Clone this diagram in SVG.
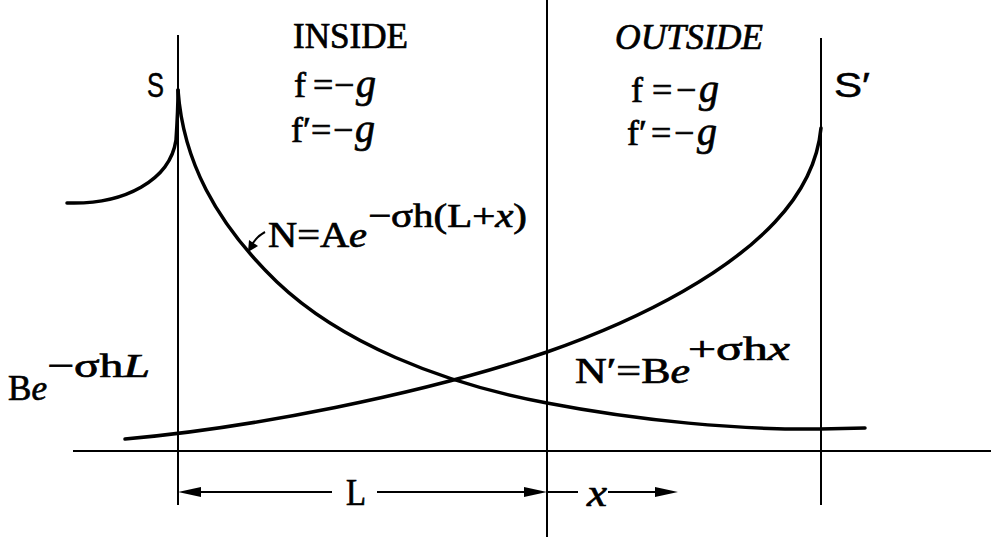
<svg xmlns="http://www.w3.org/2000/svg" width="991" height="537" viewBox="0 0 991 537">
<defs>
<style>
.thin{stroke:#000;stroke-width:2;fill:none}
.curve{stroke:#000;stroke-width:3.5;fill:none;stroke-linecap:round}
.t{font-family:"Liberation Serif","DejaVu Serif",serif;fill:#000;stroke:#000;stroke-width:0.7}
.ti{font-family:"Liberation Serif","DejaVu Serif",serif;font-style:italic;fill:#000;stroke:#000;stroke-width:0.7}
.s{font-family:"Liberation Sans","DejaVu Sans",sans-serif;fill:#000;stroke:#000;stroke-width:0.5}
</style>
</defs>
<rect width="991" height="537" fill="#fff"/>
<g id="axes">
<line class="thin" x1="178" y1="35" x2="178" y2="505"/>
<line class="thin" x1="547" y1="0" x2="547" y2="537"/>
<line class="thin" x1="821" y1="38" x2="821" y2="505"/>
<line class="thin" x1="73" y1="451" x2="991" y2="451"/>
</g>
<g id="curves">
<path class="curve" d="M67,203 C125,205 170,180 176,140 C177,125 178,110 178,90"/>
<path class="curve" d="M178,90 C183,160 215,222 277,282 C340,342 440,383 547,403 C640,421 740,430 820,429 L865,428"/>
<path class="curve" d="M125,439 C250,428 420,395 547,352 C650,316 730,270 775,222 C805,190 818,160 821,128"/>
</g>
<g id="dimensions">
<line class="thin" x1="190" y1="492" x2="332" y2="492"/>
<polygon points="178,492 201,487 201,497" fill="#000"/>
<line class="thin" x1="377" y1="492" x2="535" y2="492"/>
<polygon points="547,492 524,487 524,497" fill="#000"/>
<line class="thin" x1="547" y1="492" x2="578" y2="492"/>
<line class="thin" x1="608" y1="492" x2="665" y2="492"/>
<polygon points="678,492 655,487 655,497" fill="#000"/>
<text class="t" x="346" y="505" font-size="37" textLength="20" lengthAdjust="spacingAndGlyphs">L</text>
<text class="ti" x="587" y="506" font-size="38" textLength="20" lengthAdjust="spacingAndGlyphs">x</text>
</g>
<g id="labels">
<text class="s" x="147" y="97" font-size="35" textLength="17" lengthAdjust="spacingAndGlyphs">S</text>
<text class="s" x="834" y="97" font-size="35" textLength="36" lengthAdjust="spacingAndGlyphs">S′</text>
<text class="t" x="293" y="48" font-size="35" textLength="115" lengthAdjust="spacingAndGlyphs">INSIDE</text>
<text class="t" font-size="36" y="97"><tspan x="294">f</tspan><tspan x="313">=</tspan><tspan x="334">−</tspan><tspan class="ti" x="356" font-size="40">g</tspan></text>
<text class="t" font-size="36" y="142"><tspan x="291">f′</tspan><tspan x="311">=</tspan><tspan x="333">−</tspan><tspan class="ti" x="355" font-size="40">g</tspan></text>
<text class="ti" x="615" y="49" font-size="35" textLength="148" lengthAdjust="spacingAndGlyphs">OUTSIDE</text>
<text class="t" font-size="36" y="102"><tspan x="631">f</tspan><tspan x="652">=</tspan><tspan x="676">−</tspan><tspan class="ti" x="699" font-size="40">g</tspan></text>
<text class="t" font-size="36" y="145"><tspan x="627">f′</tspan><tspan x="651">=</tspan><tspan x="674">−</tspan><tspan class="ti" x="697" font-size="40">g</tspan></text>
</g>
<g id="formula-N">
<path class="thin" d="M265,232 Q254,238 250,249" stroke-width="2.5"/>
<polygon points="248,252 249,240 258,246" fill="#000"/>
<text class="t" x="268" y="247" font-size="36" textLength="99" lengthAdjust="spacingAndGlyphs">N=A<tspan class="ti">e</tspan></text>
<text class="t" x="368" y="227" font-size="34" textLength="159" lengthAdjust="spacingAndGlyphs">−σh(L+<tspan class="ti">x</tspan>)</text>
</g>
<g id="formula-B">
<text class="t" x="8" y="400" font-size="36" textLength="39" lengthAdjust="spacingAndGlyphs">B<tspan class="ti">e</tspan></text>
<text class="t" x="47" y="377" font-size="34" textLength="103" lengthAdjust="spacingAndGlyphs">−σh<tspan class="ti">L</tspan></text>
</g>
<g id="formula-Nprime">
<text class="t" x="575" y="383" font-size="36" textLength="115" lengthAdjust="spacingAndGlyphs">N′=B<tspan class="ti">e</tspan></text>
<text class="t" x="688" y="360" font-size="34" textLength="102" lengthAdjust="spacingAndGlyphs">+σh<tspan class="ti">x</tspan></text>
</g>
</svg>
